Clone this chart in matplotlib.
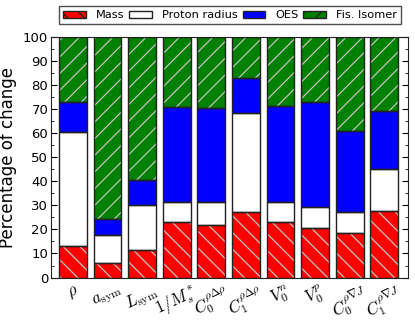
import matplotlib
matplotlib.use("Agg")
import matplotlib.pyplot as plt
from matplotlib.patches import Patch
from matplotlib.ticker import MultipleLocator

plt.rcParams['mathtext.fontset'] = 'cm'
plt.rcParams['hatch.linewidth'] = 0.9

labels = [r'$\rho$', r'$a_{\rm sym}$', r'$L_{\rm sym}$', r'$1/M_s^*$',
          r'$C_0^{\rho\Delta\rho}$', r'$C_1^{\rho\Delta\rho}$', r'$V_0^n$',
          r'$V_0^p$', r'$C_0^{\rho\nabla J}$', r'$C_1^{\rho\nabla J}$']
mass = [13.0, 6.1, 11.3, 22.9, 22.0, 27.3, 22.9, 20.6, 18.5, 27.8]
radius = [47.4, 11.7, 18.7, 8.5, 9.5, 40.9, 8.5, 8.7, 8.6, 17.1]
oes = [12.5, 6.7, 10.4, 39.4, 38.8, 14.5, 39.7, 43.7, 33.8, 24.1]
fis = [27.1, 75.5, 59.6, 29.2, 29.7, 17.3, 28.9, 27.0, 39.1, 31.0]

series = [("Mass", mass, "#ff0000", "\\\\"),
          ("Proton radius", radius, "white", ""),
          ("OES", oes, "#0000ff", ""),
          ("Fis. Isomer", fis, "#008000", "//")]

fig = plt.figure(figsize=(4.15, 3.22), dpi=100)
ax = fig.add_axes([0.123, 0.138, 0.859, 0.748])

x = list(range(len(labels)))
bottom = [0.0] * len(labels)
handles = []
for name, vals, col, hatch in series:
    # hatch layer in light grey, then a dark outline on top
    ax.bar(x, vals, 0.8, bottom=bottom, color=col, hatch=hatch,
           edgecolor="#c4c4c4", linewidth=0, zorder=2)
    ax.bar(x, vals, 0.8, bottom=bottom, fill=False,
           edgecolor="#222222", linewidth=1.0, zorder=3)
    bottom = [b + v for b, v in zip(bottom, vals)]
    handles.append(Patch(facecolor=col, hatch=hatch, edgecolor="#222222",
                         linewidth=1.0, label=name))

ax.set_xlim(-0.63, 9.67)
ax.set_ylim(0, 100)
ax.set_xticks(x)
ax.set_xticklabels(labels, rotation=25, ha='center', fontsize=12)
ax.yaxis.set_major_locator(MultipleLocator(10))
ax.yaxis.set_minor_locator(MultipleLocator(5))
ax.tick_params(axis='y', which='both', direction='in', left=True, right=True,
               labelsize=9.5, pad=2)
ax.tick_params(axis='y', which='major', length=4)
ax.tick_params(axis='y', which='minor', length=2)
ax.tick_params(axis='x', direction='in', top=True, bottom=True, length=4, pad=3)
for sp in ax.spines.values():
    sp.set_color("#222222")
ax.set_ylabel("Percentage of change", fontsize=12)
ax.yaxis.set_label_coords(-0.095, 0.5)

leg = fig.legend(handles=handles, loc='lower center', ncol=4,
                 bbox_to_anchor=(0.555, 0.925), fontsize=8.2, frameon=True,
                 fancybox=False, edgecolor="#222222", handlelength=2.0,
                 handleheight=0.6, handletextpad=0.9, columnspacing=0.4,
                 borderpad=0.35, borderaxespad=0)
leg.get_frame().set_linewidth(1.0)

fig.savefig("out.png", dpi=100)
